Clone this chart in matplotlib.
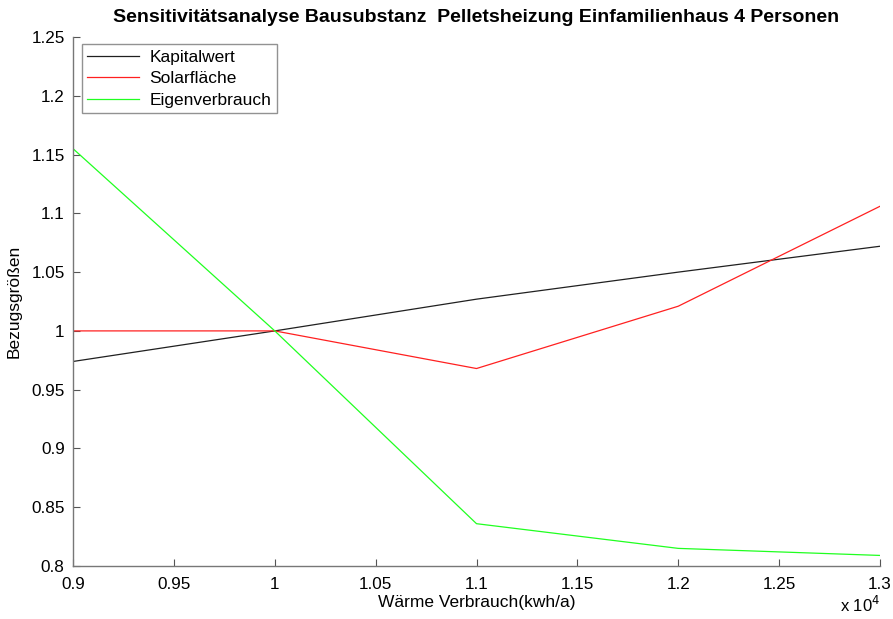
import matplotlib
matplotlib.use("Agg")
import numpy as np
import matplotlib.pyplot as plt
from matplotlib.ticker import FuncFormatter

# Waermeverbrauch in kWh/a
verbrauch = [9000, 10000, 11000, 12000, 13000]
kapitalwert = [0.974, 1.0, 1.027, 1.050, 1.072]
solarflaeche = [1.0, 1.0, 0.968, 1.021, 1.106]
eigenverbrauch = [1.155, 1.0, 0.836, 0.815, 0.809]

x_ticks = [9000, 9500, 10000, 10500, 11000, 11500, 12000, 12500, 13000]
y_ticks = [0.8, 0.85, 0.9, 0.95, 1.0, 1.05, 1.1, 1.15, 1.2, 1.25]

plt.rcParams['font.family'] = ['Liberation Sans', 'DejaVu Sans']

fig = plt.figure(figsize=(8.93, 6.19), dpi=100)
ax = fig.add_axes([0.0818, 0.0856, 0.9036, 0.8546])

ax.plot(verbrauch, kapitalwert, color='#202020', lw=0.9, label='Kapitalwert')
ax.plot(verbrauch, solarflaeche, color='#ff2020', lw=0.9, label='Solarfläche')
ax.plot(verbrauch, eigenverbrauch, color='#20ff20', lw=0.9, label='Eigenverbrauch')

ax.set_xlim(9000, 13000)
ax.set_ylim(0.8, 1.25)
ax.set_xticks(x_ticks)
ax.set_yticks(y_ticks)

def fmt(v):
    s = ('%.2f' % v).rstrip('0').rstrip('.')
    return s

ax.xaxis.set_major_formatter(FuncFormatter(lambda v, p: fmt(v / 1e4)))
ax.yaxis.set_major_formatter(FuncFormatter(lambda v, p: fmt(v)))

ax.tick_params(direction='in', length=5, labelsize=12.3, color='#555555',
               top=False, right=False, pad=6)
ax.tick_params(axis='x', pad=8)
ax.spines['top'].set_visible(False)
ax.spines['right'].set_visible(False)
for s in ax.spines.values():
    s.set_color('#777777')
    s.set_linewidth(1.0)

ax.set_xlabel('Wärme Verbrauch(kwh/a)', fontsize=12.5, labelpad=2)
ax.set_ylabel('Bezugsgrößen', fontsize=12.5, labelpad=7)
ax.set_title('Sensitivitätsanalyse Bausubstanz  Pelletsheizung Einfamilienhaus 4 Personen',
             fontsize=14, fontweight='bold', pad=11,
             family=['Liberation Sans Narrow', 'Liberation Sans', 'DejaVu Sans'])

ax.text(1.0, -0.055, r'x 10$^{4}$', transform=ax.transAxes, ha='right', va='top',
        fontsize=12)

leg = ax.legend(loc='upper left', fontsize=12.5, frameon=True, fancybox=False,
                borderpad=0.3, labelspacing=0.36, handlelength=3.0,
                handletextpad=0.6, borderaxespad=0,
                bbox_to_anchor=(0.011, 0.986))
leg.get_frame().set_edgecolor('#777777')
leg.get_frame().set_linewidth(1.0)

fig.savefig('out.png', dpi=100)
